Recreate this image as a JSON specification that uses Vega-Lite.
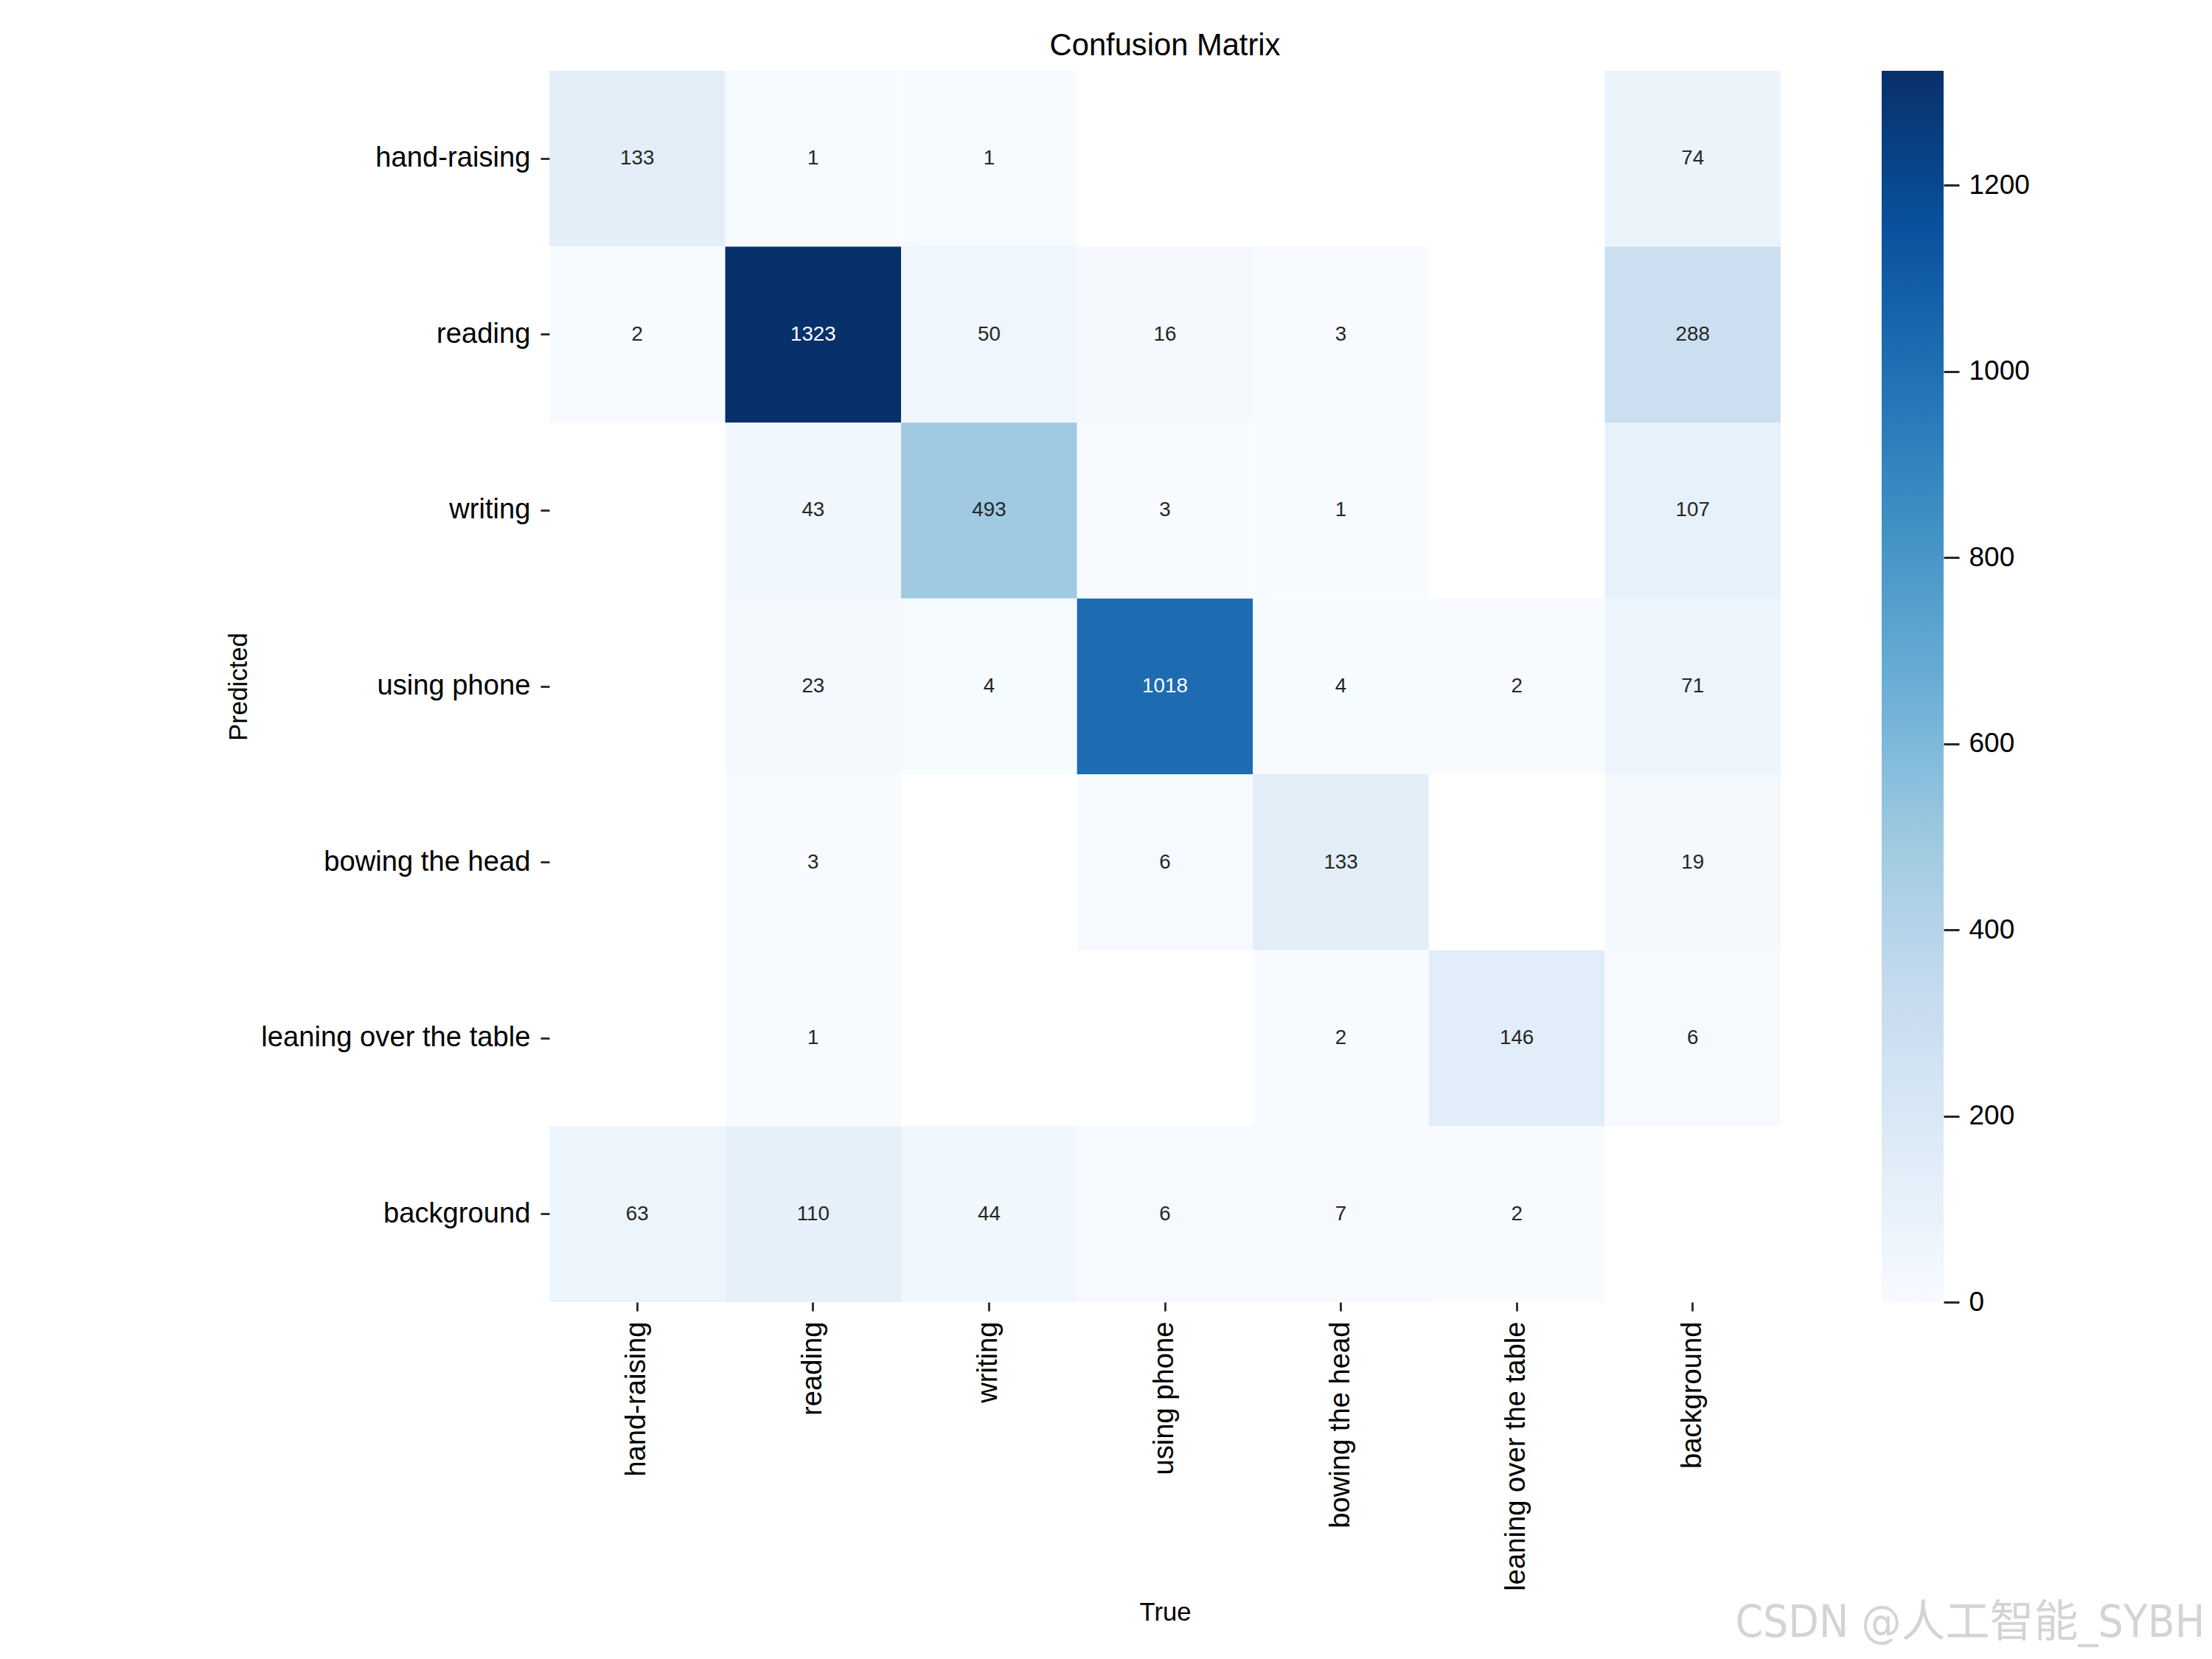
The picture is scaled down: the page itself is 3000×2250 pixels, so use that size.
{
  "$schema": "https://vega.github.io/schema/vega-lite/v6.json",
  "background": "white",
  "padding": {"left": 306, "top": 42, "right": 5, "bottom": 5},
  "config": {
    "view": {"stroke": null},
    "font": "Liberation Sans",
    "axis": {
      "domain": false,
      "grid": false,
      "tickColor": "#262626",
      "labelColor": "black",
      "titleColor": "black",
      "titleFontWeight": "normal",
      "labelFont": "Liberation Sans",
      "titleFont": "Liberation Sans"
    }
  },
  "datasets": {
    "cm": [
      {"pred": "hand-raising", "true": "hand-raising", "count": 133},
      {"pred": "hand-raising", "true": "reading", "count": 1},
      {"pred": "hand-raising", "true": "writing", "count": 1},
      {"pred": "hand-raising", "true": "background", "count": 74},
      {"pred": "reading", "true": "hand-raising", "count": 2},
      {"pred": "reading", "true": "reading", "count": 1323},
      {"pred": "reading", "true": "writing", "count": 50},
      {"pred": "reading", "true": "using phone", "count": 16},
      {"pred": "reading", "true": "bowing the head", "count": 3},
      {"pred": "reading", "true": "background", "count": 288},
      {"pred": "writing", "true": "reading", "count": 43},
      {"pred": "writing", "true": "writing", "count": 493},
      {"pred": "writing", "true": "using phone", "count": 3},
      {"pred": "writing", "true": "bowing the head", "count": 1},
      {"pred": "writing", "true": "background", "count": 107},
      {"pred": "using phone", "true": "reading", "count": 23},
      {"pred": "using phone", "true": "writing", "count": 4},
      {"pred": "using phone", "true": "using phone", "count": 1018},
      {"pred": "using phone", "true": "bowing the head", "count": 4},
      {"pred": "using phone", "true": "leaning over the table", "count": 2},
      {"pred": "using phone", "true": "background", "count": 71},
      {"pred": "bowing the head", "true": "reading", "count": 3},
      {"pred": "bowing the head", "true": "using phone", "count": 6},
      {"pred": "bowing the head", "true": "bowing the head", "count": 133},
      {"pred": "bowing the head", "true": "background", "count": 19},
      {"pred": "leaning over the table", "true": "reading", "count": 1},
      {"pred": "leaning over the table", "true": "bowing the head", "count": 2},
      {"pred": "leaning over the table", "true": "leaning over the table", "count": 146},
      {"pred": "leaning over the table", "true": "background", "count": 6},
      {"pred": "background", "true": "hand-raising", "count": 63},
      {"pred": "background", "true": "reading", "count": 110},
      {"pred": "background", "true": "writing", "count": 44},
      {"pred": "background", "true": "using phone", "count": 6},
      {"pred": "background", "true": "bowing the head", "count": 7},
      {"pred": "background", "true": "leaning over the table", "count": 2}
    ],
    "cbar": [{"lo": 0, "hi": 1323}]
  },
  "title": {
    "text": "CSDN @人工智能_SYBH",
    "orient": "bottom",
    "anchor": "end",
    "frame": "bounds",
    "font": "Liberation Sans Narrow, DejaVu Sans Condensed, Noto Sans CJK SC",
    "fontSize": 60,
    "fontWeight": "normal",
    "color": "#d4d4d4",
    "offset": -31,
    "dx": 238
  },
  "spacing": 136,
  "hconcat": [
    {
      "width": 1670,
      "height": 1670,
      "title": {
        "text": "Confusion Matrix",
        "fontSize": 41.7,
        "fontWeight": "normal",
        "color": "black",
        "frame": "group",
        "anchor": "middle",
        "offset": 12
      },
      "data": {"name": "cm"},
      "encoding": {
        "x": {
          "field": "true",
          "type": "nominal",
          "scale": {
            "domain": ["hand-raising", "reading", "writing", "using phone", "bowing the head", "leaning over the table", "background"],
            "paddingInner": 0,
            "paddingOuter": 0
          },
          "axis": {
            "title": "True",
            "orient": "bottom",
            "labelAngle": 270,
            "labelFontSize": 38.2,
            "labelLimit": 1000,
            "labelPadding": 14,
            "tickSize": 12,
            "tickWidth": 2.8,
            "titleFontSize": 34.7,
            "titlePadding": 204
          }
        },
        "y": {
          "field": "pred",
          "type": "nominal",
          "scale": {
            "domain": ["hand-raising", "reading", "writing", "using phone", "bowing the head", "leaning over the table", "background"],
            "paddingInner": 0,
            "paddingOuter": 0
          },
          "axis": {
            "title": "Predicted",
            "labelFontSize": 38.2,
            "labelLimit": 1000,
            "labelPadding": 14,
            "tickSize": 12,
            "tickWidth": 2.8,
            "titleFontSize": 34.7,
            "titlePadding": 204
          }
        }
      },
      "layer": [
        {
          "mark": {"type": "rect"},
          "encoding": {
            "color": {
              "field": "count",
              "type": "quantitative",
              "scale": {
                "domain": [0, 165.375, 330.75, 496.125, 661.5, 826.875, 992.25, 1157.625, 1323],
                "range": ["#f7fbff", "#deebf7", "#c6dbef", "#9ecae1", "#6baed6", "#4292c6", "#2171b5", "#08519c", "#08306b"],
                "interpolate": "rgb"
              },
              "legend": null
            }
          }
        },
        {
          "mark": {"type": "text", "fontSize": 27.8, "font": "Liberation Sans"},
          "encoding": {
            "text": {"field": "count", "type": "quantitative", "format": "d"},
            "color": {
              "condition": {"test": "datum.count > 800", "value": "white"},
              "value": "#262626"
            }
          }
        }
      ]
    },
    {
      "width": 84,
      "height": 1670,
      "data": {"name": "cbar"},
      "mark": {
        "type": "rect",
        "color": {
          "gradient": "linear",
          "x1": 0, "y1": 1, "x2": 0, "y2": 0,
          "stops": [
            {"offset": 0, "color": "#f7fbff"},
            {"offset": 0.125, "color": "#deebf7"},
            {"offset": 0.25, "color": "#c6dbef"},
            {"offset": 0.375, "color": "#9ecae1"},
            {"offset": 0.5, "color": "#6baed6"},
            {"offset": 0.625, "color": "#4292c6"},
            {"offset": 0.75, "color": "#2171b5"},
            {"offset": 0.875, "color": "#08519c"},
            {"offset": 1, "color": "#08306b"}
          ]
        }
      },
      "encoding": {
        "y": {
          "field": "lo",
          "type": "quantitative",
          "scale": {"domain": [0, 1323], "nice": false},
          "axis": {
            "orient": "right",
            "title": null,
            "format": "d",
            "values": [0, 200, 400, 600, 800, 1000, 1200],
            "tickSize": 21,
            "tickWidth": 3,
            "labelPadding": 13,
            "labelFontSize": 37,
            "labelFlush": false
          }
        },
        "y2": {"field": "hi"}
      }
    }
  ]
}
